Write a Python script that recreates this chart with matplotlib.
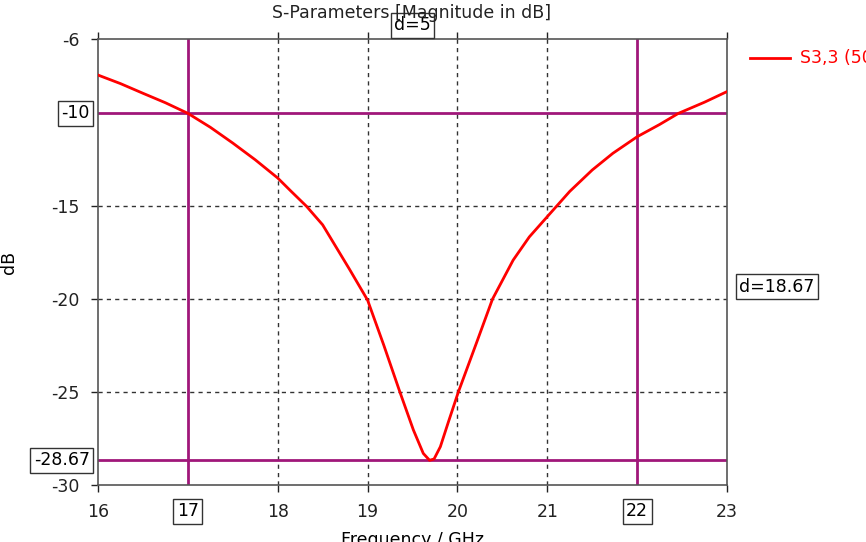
import matplotlib
matplotlib.use("Agg")
from matplotlib import pyplot as plt

plt.rcParams["axes.unicode_minus"] = False

# S3,3 magnitude (GHz, dB)
freq = [16.0, 16.25, 16.5, 16.75, 17.0, 17.25, 17.5, 17.75, 18.0, 18.15,
        18.32, 18.5, 18.65, 18.8, 19.0, 19.18, 19.36, 19.51, 19.62, 19.69,
        19.74, 19.81, 19.9, 20.01, 20.21, 20.39, 20.62, 20.8, 21.0, 21.25,
        21.5, 21.73, 22.0, 22.25, 22.46, 22.75, 23.0]
s33 = [-7.94, -8.4, -8.92, -9.43, -10.0, -10.75, -11.6, -12.5, -13.48, -14.2,
       -15.0, -16.0, -17.2, -18.4, -20.05, -22.47, -25.0, -27.04, -28.3, -28.67,
       -28.6, -27.94, -26.6, -25.0, -22.38, -20.0, -17.9, -16.65, -15.56, -14.2,
       -13.05, -12.15, -11.26, -10.6, -10.0, -9.4, -8.83]

x_ticks = [16, 18, 19, 20, 21, 23]
y_ticks = [-6, -15, -20, -25, -30]
grid_x = [18, 19, 20, 21]
grid_y = [-15, -20, -25]
marker_x = [17, 22]
marker_y = [-10, -28.67]

title = "S-Parameters [Magnitude in dB]"
legend_label = "S3,3 (50)"

purple = "#a0177a"
fs = 12.5
box = dict(boxstyle="square,pad=0.2", fc="white", ec="#333333", lw=1)

fig = plt.figure(figsize=(8.66, 5.42), dpi=100)
ax = fig.add_axes([98 / 866, 1 - 485 / 542, 629 / 866, 446 / 542])

for gx in grid_x:
    ax.axvline(gx, color="#333333", lw=1, ls=(0, (3, 3)), zorder=1)
for gy in grid_y:
    ax.axhline(gy, color="#333333", lw=1, ls=(0, (3, 3)), zorder=1)

for mx in marker_x:
    ax.axvline(mx, color=purple, lw=2, zorder=2)
for my in marker_y:
    ax.axhline(my, color=purple, lw=2, zorder=2)

ax.plot(freq, s33, color="#ff0000", lw=2, zorder=3)

ax.set_xlim(16, 23)
ax.set_ylim(-30, -6)
ax.set_xticks(x_ticks)
ax.set_yticks(y_ticks)
ax.tick_params(labelsize=fs, colors="#222222", length=5, width=1,
               top=True, right=False, pad=8)
for sp in ax.spines.values():
    sp.set_color("#555555")
    sp.set_linewidth(1.2)

# boxed marker labels
for mx in marker_x:
    ax.annotate(str(mx), xy=(mx, 0), xycoords=("data", "axes fraction"),
                xytext=(0, -19), textcoords="offset points", ha="center",
                va="center", fontsize=fs, bbox=box)
for my in marker_y:
    ax.annotate("%g" % my, xy=(0, my), xycoords=("axes fraction", "data"),
                xytext=(-6, 0), textcoords="offset points", ha="right",
                va="center", fontsize=fs, bbox=box)

dx = marker_x[1] - marker_x[0]
dy = marker_y[0] - marker_y[1]
ax.annotate("d=%g" % dx, xy=(sum(marker_x) / 2, 1),
            xycoords=("data", "axes fraction"), xytext=(0, 10),
            textcoords="offset points", ha="center", va="center",
            fontsize=fs, bbox=box, annotation_clip=False)
ax.annotate("d=%.2f" % dy, xy=(1, sum(marker_y) / 2),
            xycoords=("axes fraction", "data"), xytext=(9, 0),
            textcoords="offset points", ha="left", va="center",
            fontsize=fs, bbox=box, annotation_clip=False)

fig.text(412 / 866, 1 - 13 / 542, title, ha="center", va="center",
         fontsize=fs, color="#222222")
ax.set_xlabel("Frequency / GHz", fontsize=fs, labelpad=7)
ax.set_ylabel("dB", fontsize=fs, labelpad=24)

# legend entry at the right edge (cut off like the reference)
fig.add_artist(plt.Line2D([750 / 866, 790 / 866], [1 - 58 / 542] * 2,
                          color="#ff0000", lw=2))
fig.text(800 / 866, 1 - 58 / 542, legend_label, ha="left", va="center",
         fontsize=fs, color="#ff0000")

fig.savefig("out.png", dpi=100)
